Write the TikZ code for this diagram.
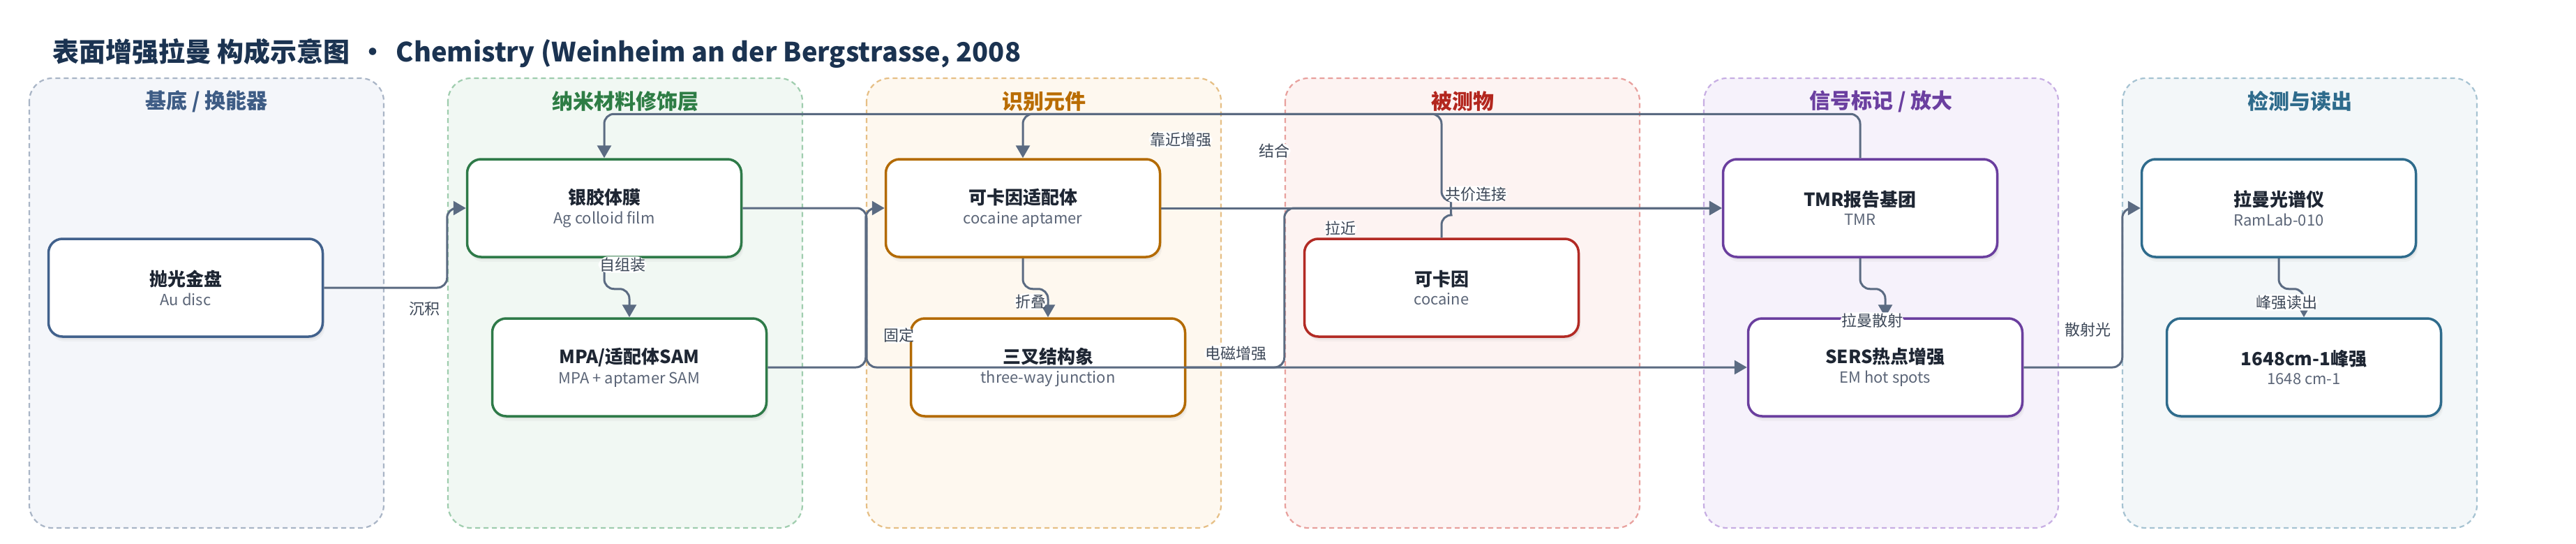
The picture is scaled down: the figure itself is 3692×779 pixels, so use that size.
\documentclass[tikz,border=0pt]{standalone}
\usepackage{fontspec}
\setmainfont{Noto Sans CJK SC}
\usetikzlibrary{arrows.meta,shadows}

\definecolor{edgec}{HTML}{5B6B82}
\definecolor{lblc}{HTML}{3C4757}
\definecolor{titlec}{HTML}{1B3351}
\definecolor{ntc}{HTML}{1E2633}
\definecolor{nsc}{HTML}{5B6577}
\definecolor{gAf}{HTML}{F4F6FA}\definecolor{gAb}{HTML}{A9B5C6}\definecolor{gAt}{HTML}{3E5C85}\definecolor{gAn}{HTML}{41618C}
\definecolor{gBf}{HTML}{F1F8F3}\definecolor{gBb}{HTML}{9FCDAE}\definecolor{gBt}{HTML}{2E7D45}\definecolor{gBn}{HTML}{2E7A48}
\definecolor{gCf}{HTML}{FEF8EF}\definecolor{gCb}{HTML}{E6BF85}\definecolor{gCt}{HTML}{B96C00}\definecolor{gCn}{HTML}{B36A00}
\definecolor{gDf}{HTML}{FDF3F2}\definecolor{gDb}{HTML}{E8A09D}\definecolor{gDt}{HTML}{B3261E}\definecolor{gDn}{HTML}{B22A24}
\definecolor{gEf}{HTML}{F6F2FB}\definecolor{gEb}{HTML}{C7AEE3}\definecolor{gEt}{HTML}{6B3FA0}\definecolor{gEn}{HTML}{6A3E9E}
\definecolor{gFf}{HTML}{F3F7F9}\definecolor{gFb}{HTML}{A6C3D2}\definecolor{gFt}{HTML}{2E6B8C}\definecolor{gFn}{HTML}{2E6B8C}

\newcommand{\mytitle}[1]{{\bfseries\color{ntc}\fontsize{26}{30}\selectfont #1}}
\newcommand{\mysub}[1]{{\color{nsc}\fontsize{22}{26}\selectfont #1}}

\begin{document}
\begin{tikzpicture}[x=1pt,y=-1pt,
  grp/.style={line width=2.2pt, dash pattern=on 7pt off 5pt, rounded corners=33pt},
  gtitle/.style={font=\bfseries\fontsize{30}{34}\selectfont, inner sep=0pt},
  box/.style={rectangle, rounded corners=20pt, minimum width=393pt, minimum height=140pt,
    line width=3.5pt, fill=white, align=center, inner sep=0pt,
    drop shadow={opacity=0.10, shadow xshift=2pt, shadow yshift=-4pt},
    drop shadow={opacity=0.06, shadow xshift=3pt, shadow yshift=-7pt}},
  edge/.style={draw=edgec, line width=3pt, rounded corners=14pt, -{Triangle[length=18pt,width=20pt]}},
  lbl/.style={fill=white, text=lblc, font=\fontsize{22}{24}\selectfont, inner sep=1.5pt}]
\useasboundingbox (0,0) rectangle (3692,779);
\fill[white] (0,0) rectangle (3692,779);

\node[anchor=west, inner sep=0pt, text=titlec, font=\bfseries\fontsize{38}{42}\selectfont] (title) at (75,76)
  {表面增强拉曼 构成示意图\hspace{14pt}·\hspace{14pt}Chemistry (Weinheim an der Bergstrasse, 2008};

% groups
\draw[grp, fill=gAf, draw=gAb] (42,112) rectangle (550,756);
\draw[grp, fill=gBf, draw=gBb] (642,112) rectangle (1150,756);
\draw[grp, fill=gCf, draw=gCb] (1242,112) rectangle (1750,756);
\draw[grp, fill=gDf, draw=gDb] (1842,112) rectangle (2350,756);
\draw[grp, fill=gEf, draw=gEb] (2442,112) rectangle (2950,756);
\draw[grp, fill=gFf, draw=gFb] (3042,112) rectangle (3550,756);
\node[gtitle, text=gAt] (gt1) at (296,145) {基底 / 换能器};
\node[gtitle, text=gBt] (gt2) at (896,145) {纳米材料修饰层};
\node[gtitle, text=gCt] (gt3) at (1496,145) {识别元件};
\node[gtitle, text=gDt] (gt4) at (2096,145) {被测物};
\node[gtitle, text=gEt] (gt5) at (2696,145) {信号标记 / 放大};
\node[gtitle, text=gFt] (gt6) at (3296,145) {检测与读出};

% nodes
\node[box, draw=gAn] (au) at (266,412) {\mytitle{抛光金盘}\\[7pt]\mysub{Au disc}};
\node[box, draw=gBn] (ag) at (866,298) {\mytitle{银胶体膜}\\[7pt]\mysub{Ag colloid film}};
\node[box, draw=gBn] (mpa) at (902,526) {\mytitle{MPA/适配体SAM}\\[7pt]\mysub{MPA + aptamer SAM}};
\node[box, draw=gCn] (apt) at (1466,298) {\mytitle{可卡因适配体}\\[7pt]\mysub{cocaine aptamer}};
\node[box, draw=gCn] (twj) at (1502,526) {\mytitle{三叉结构象}\\[7pt]\mysub{three-way junction}};
\node[box, draw=gDn] (coc) at (2066,412) {\mytitle{可卡因}\\[7pt]\mysub{cocaine}};
\node[box, draw=gEn] (tmr) at (2666,298) {\mytitle{TMR报告基团}\\[7pt]\mysub{TMR}};
\node[box, draw=gEn] (sers) at (2702,526) {\mytitle{SERS热点增强}\\[7pt]\mysub{EM hot spots}};
\node[box, draw=gFn] (ram) at (3266,298) {\mytitle{拉曼光谱仪}\\[7pt]\mysub{RamLab-010}};
\node[box, draw=gFn] (peak) at (3302,526) {\mytitle{1648cm-1峰强}\\[7pt]\mysub{1648 cm-1}};

% edges
\draw[edge] (au.east) -| ([xshift=-27pt]ag.west) -- (ag.west) node[lbl] at (608,442) {沉积};
\draw[edge] (ag.south) -- ++(0,44) -| (mpa.north) node[lbl] at (892,379) {自组装};
\draw[edge] (ag.east) -| (1242,526) -- (sers.west) node[lbl] at (1771,506) {电磁增强};
\draw[edge] (mpa.east) -| ([xshift=-27pt]apt.west) -- (apt.west) node[lbl] at (1288,480) {固定};
\draw[edge] (apt.south) -- ++(0,44) -| (twj.north) node[lbl] at (1477,432) {折叠};
\draw[edge] (tmr.north) |- ([yshift=63pt]ag.north) -- (ag.north) node[lbl] at (1692,200) {靠近增强};
\draw[edge] (coc.north) -- (2066,308) .. controls (2079.3,308) and (2079.3,288) .. (2066,288)
   |- ([yshift=63pt]apt.north) -- (apt.north) node[lbl] at (1826,216) {结合};
\draw[edge] (apt.east) -- (tmr.west) node[lbl] at (2115,278) {共价连接};
\draw[edge] (twj.east) -| ([xshift=-627pt]tmr.west) -- (tmr.west) node[lbl] at (1921,327) {拉近};
\draw[edge] (tmr.south) -- ++(0,44) -| (sers.north) node[lbl] at (2683,459) {拉曼散射};
\draw[edge] (sers.east) -| ([xshift=-26pt]ram.west) -- (ram.west) node[lbl] at (2992,472) {散射光};
\draw[edge] (ram.south) -- ++(0,44) -| (peak.north) node[lbl] at (3277,433) {峰强读出};
\end{tikzpicture}
\end{document}
